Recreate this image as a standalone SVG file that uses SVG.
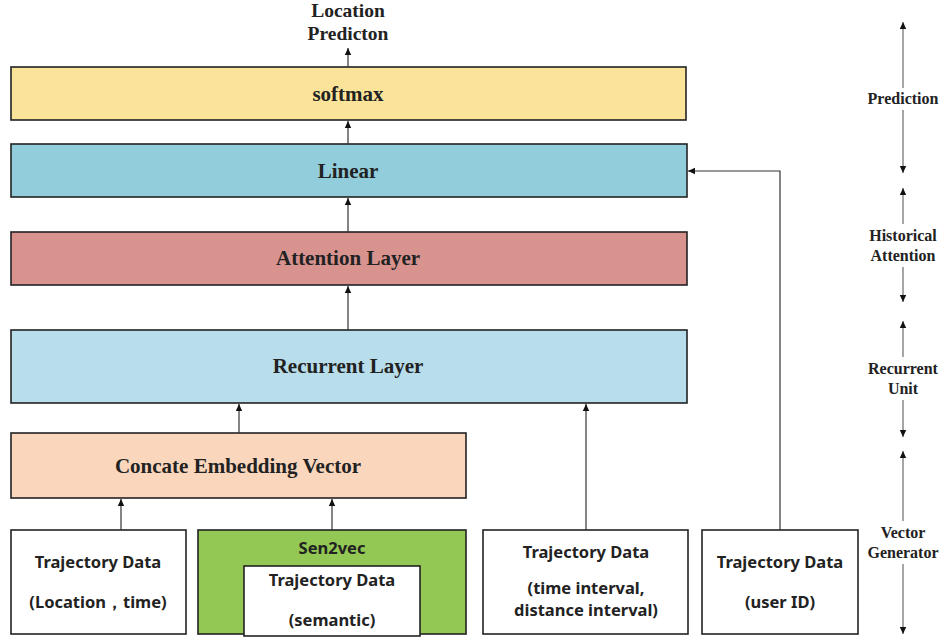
<svg xmlns="http://www.w3.org/2000/svg" width="944" height="641" viewBox="0 0 944 641">
<defs>
<marker id="ah" markerWidth="8" markerHeight="8" refX="7" refY="4" orient="auto" markerUnits="userSpaceOnUse" viewBox="0 0 8 8">
<path d="M0,0.8 L7,4 L0,7.2 Z" fill="#111"/>
</marker>
</defs>
<style>
.layer{stroke:#222;stroke-width:1.6}
.data{fill:#fff;stroke:#222;stroke-width:1.6}
.serif{font-family:"Liberation Serif","Times New Roman",serif;font-weight:bold;fill:#222;text-anchor:middle}
.big{font-size:21px}
.side{font-size:16px}
.sans{font-family:"Noto Sans","Open Sans",sans-serif;font-weight:bold;font-size:16.5px;fill:#222;text-anchor:middle}
.conn{fill:none;stroke:#333;stroke-width:1.2;marker-end:url(#ah)}
.gray{fill:none;stroke:#888;stroke-width:1.5;marker-end:url(#ah)}
</style>
<rect width="944" height="641" fill="#fff"/>

<g id="output-label">
<text class="serif" x="348" y="17" font-size="19.5">Location</text>
<text class="serif" x="348" y="40" font-size="19.5">Predicton</text>
</g>

<g id="softmax"><rect class="layer" x="11" y="67" width="675" height="53" fill="#FBE49A"/><text class="serif big" x="348" y="101">softmax</text></g>
<g id="linear"><rect class="layer" x="11" y="144" width="676" height="53" fill="#92CDDB"/><text class="serif big" x="348" y="178">Linear</text></g>
<g id="attention"><rect class="layer" x="11" y="232" width="676" height="53" fill="#D8938F"/><text class="serif big" x="348" y="265">Attention Layer</text></g>
<g id="recurrent"><rect class="layer" x="11" y="330" width="676" height="73" fill="#B8DDEB"/><text class="serif big" x="348" y="373">Recurrent Layer</text></g>
<g id="concate"><rect class="layer" x="11" y="433" width="455" height="65" fill="#FAD7BC"/><text class="serif big" x="238" y="473">Concate Embedding Vector</text></g>

<g id="data-location"><rect class="data" x="11" y="530" width="175" height="104"/><text class="sans" x="98" y="568">Trajectory Data</text><text class="sans" x="98" y="608">(Location，time)</text></g>
<g id="sen2vec"><rect class="layer" x="198" y="530" width="268" height="104" fill="#92C853"/><text class="sans" x="332" y="554">Sen2vec</text>
<g id="data-semantic"><rect class="data" x="244" y="566" width="176" height="70"/><text class="sans" x="332" y="586">Trajectory Data</text><text class="sans" x="332" y="626">(semantic)</text></g></g>
<g id="data-interval"><rect class="data" x="483" y="530" width="205" height="104"/><text class="sans" x="586" y="558">Trajectory Data</text><text class="sans" x="586" y="594" font-size="15.5">(time interval,</text><text class="sans" x="586" y="616" font-size="15.5">distance interval)</text></g>
<g id="data-user"><rect class="data" x="702" y="530" width="156" height="104"/><text class="sans" x="780" y="568">Trajectory Data</text><text class="sans" x="780" y="608">(user ID)</text></g>

<g id="connectors">
<line class="conn" x1="348" y1="67" x2="348" y2="48"/>
<line class="conn" x1="348" y1="144" x2="348" y2="121"/>
<line class="conn" x1="348" y1="232" x2="348" y2="198"/>
<line class="conn" x1="348" y1="330" x2="348" y2="286"/>
<line class="conn" x1="239" y1="433" x2="239" y2="404"/>
<line class="conn" x1="586" y1="530" x2="586" y2="404"/>
<line class="conn" x1="121" y1="530" x2="121" y2="499"/>
<line class="conn" x1="332" y1="530" x2="332" y2="499"/>
<polyline class="conn" points="780,530 780,171 688,171"/>
</g>

<g id="stage-prediction">
<line class="gray" x1="903" y1="88" x2="903" y2="22"/>
<line class="gray" x1="903" y1="110" x2="903" y2="173"/>
<text class="serif side" x="903" y="104">Prediction</text>
</g>
<g id="stage-attention">
<line class="gray" x1="903" y1="224" x2="903" y2="188"/>
<line class="gray" x1="903" y1="267" x2="903" y2="302"/>
<text class="serif side" x="903" y="241">Historical</text>
<text class="serif side" x="903" y="261">Attention</text>
</g>
<g id="stage-recurrent">
<line class="gray" x1="903" y1="357" x2="903" y2="321"/>
<line class="gray" x1="903" y1="400" x2="903" y2="437"/>
<text class="serif side" x="903" y="374">Recurrent</text>
<text class="serif side" x="903" y="394">Unit</text>
</g>
<g id="stage-vector">
<line class="gray" x1="903" y1="521" x2="903" y2="451"/>
<line class="gray" x1="903" y1="564" x2="903" y2="634"/>
<text class="serif side" x="903" y="538">Vector</text>
<text class="serif side" x="903" y="558">Generator</text>
</g>
</svg>
